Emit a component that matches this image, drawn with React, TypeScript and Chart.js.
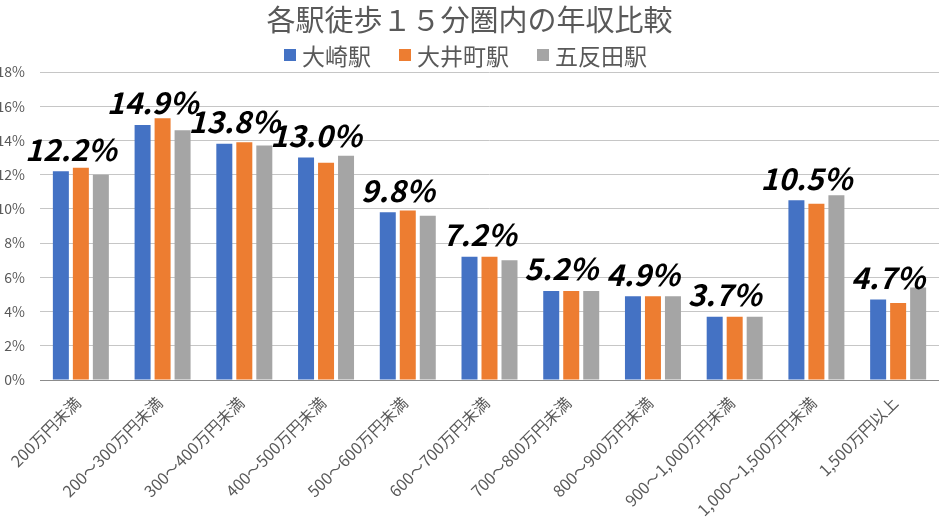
import React, { useEffect, useRef } from 'react';
import { Chart, registerables } from 'chart.js';

Chart.register(...registerables);

const chartTitle = '各駅徒歩１５分圏内の年収比較';
const categories = [
  '200万円未満',
  '200～300万円未満',
  '300～400万円未満',
  '400～500万円未満',
  '500～600万円未満',
  '600～700万円未満',
  '700～800万円未満',
  '800～900万円未満',
  '900～1,000万円未満',
  '1,000～1,500万円未満',
  '1,500万円以上',
];
const seriesNames = ['大崎駅', '大井町駅', '五反田駅'];
const osaki = [12.2, 14.9, 13.8, 13.0, 9.8, 7.2, 5.2, 4.9, 3.7, 10.5, 4.7];
const oimachi = [12.4, 15.3, 13.9, 12.7, 9.9, 7.2, 5.2, 4.9, 3.7, 10.3, 4.5];
const gotanda = [12.0, 14.6, 13.7, 13.1, 9.6, 7.0, 5.2, 4.9, 3.7, 10.8, 5.4];
const yMin = 0;
const yMax = 18;
const yStep = 2;

const seriesColors = ['#4472C4', '#ED7D31', '#A5A5A5'];
const FONT = "'Noto Sans CJK JP', 'Noto Sans', sans-serif";
const TEXT_GRAY = '#595959';

const customLegend = {
  id: 'customLegend',
  afterDraw(chart: any) {
    const ctx = chart.ctx;
    const fontSize = 23;
    const box = 12;
    const gapBoxText = 6;
    const gapItems = 28;
    ctx.save();
    ctx.font = `${fontSize}px ${FONT}`;
    const widths = seriesNames.map((n) => ctx.measureText(n).width);
    const total =
      widths.reduce((a, w) => a + box + gapBoxText + w, 0) + gapItems * (seriesNames.length - 1);
    let x = chart.width / 2 - total / 2 - 4;
    const cy = 55;
    seriesNames.forEach((n, i) => {
      ctx.fillStyle = seriesColors[i];
      ctx.fillRect(x, cy - box / 2, box, box);
      x += box + gapBoxText;
      ctx.fillStyle = TEXT_GRAY;
      ctx.textBaseline = 'middle';
      ctx.textAlign = 'left';
      ctx.fillText(n, x, cy + 1);
      x += widths[i] + gapItems;
    });
    ctx.restore();
  },
};

const valueLabels = {
  id: 'valueLabels',
  afterDatasetsDraw(chart: any) {
    const ctx = chart.ctx;
    const metaBlue = chart.getDatasetMeta(0);
    const metaMid = chart.getDatasetMeta(1);
    ctx.save();
    ctx.font = `italic bold 30px ${FONT}`;
    ctx.fillStyle = '#000000';
    ctx.textAlign = 'center';
    ctx.textBaseline = 'middle';
    metaBlue.data.forEach((bar: any, i: number) => {
      const cx = metaMid.data[i].x - 10;
      const y = bar.y - 22;
      ctx.fillText(`${osaki[i].toFixed(1)}%`, cx, y);
    });
    ctx.restore();
  },
};

export default function App() {
  const ref = useRef<HTMLCanvasElement | null>(null);

  useEffect(() => {
    document.body.style.margin = '0';
    const canvas = ref.current;
    if (!canvas) return;
    const chart = new Chart(canvas, {
      type: 'bar',
      data: {
        labels: categories,
        datasets: [
          { label: seriesNames[0], data: osaki, backgroundColor: seriesColors[0] },
          { label: seriesNames[1], data: oimachi, backgroundColor: seriesColors[1] },
          { label: seriesNames[2], data: gotanda, backgroundColor: seriesColors[2] },
        ],
      },
      options: {
        responsive: false,
        animation: false,
        devicePixelRatio: 1,
        datasets: {
          bar: { categoryPercentage: 0.734, barPercentage: 0.8 },
        },
        layout: { padding: { left: 0, right: 0, top: 0, bottom: 0 } },
        plugins: {
          legend: { display: false },
          tooltip: { enabled: false },
          title: {
            display: true,
            text: chartTitle,
            color: TEXT_GRAY,
            font: { family: FONT, size: 29, weight: 'normal' },
            padding: { top: 3, bottom: 34.2 },
          },
        },
        scales: {
          x: {
            grid: { display: false, drawTicks: false },
            border: { display: true, color: '#8c8c8c', width: 1 },
            ticks: {
              color: TEXT_GRAY,
              font: { family: FONT, size: 16 },
              minRotation: 45,
              maxRotation: 45,
              autoSkip: false,
              padding: 13,
              labelOffset: -3,
            },
            afterFit: (scale: any) => {
              scale.height = 146;
            },
          },
          y: {
            min: yMin,
            max: yMax,
            grid: { color: '#c6c6c6', drawTicks: false },
            border: { display: false },
            ticks: {
              stepSize: yStep,
              color: TEXT_GRAY,
              font: { family: FONT, size: 14 },
              padding: 15,
              callback: (v: any) => `${v}%`,
            },
            afterFit: (scale: any) => {
              scale.width = 40;
            },
          },
        },
      },
      plugins: [customLegend, valueLabels],
    });
    return () => chart.destroy();
  }, []);

  return (
    <div style={{ position: 'absolute', left: 0, top: 0, width: 939, height: 526, background: '#fff' }}>
      <canvas ref={ref} width={939} height={526} />
    </div>
  );
}
